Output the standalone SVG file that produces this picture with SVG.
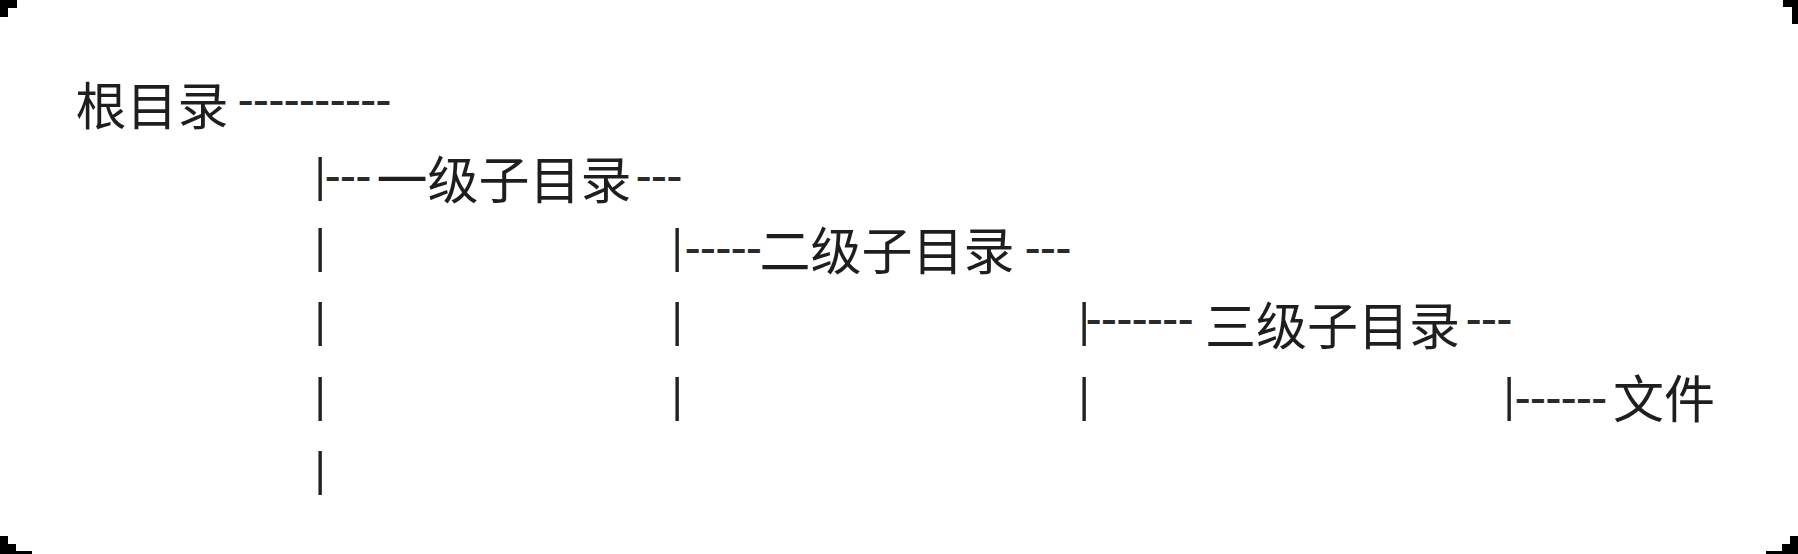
<svg xmlns="http://www.w3.org/2000/svg" width="1798" height="554" viewBox="0 0 1798 554">
<style>
  .cjk{font-family:"Noto Sans CJK SC","Noto Sans CJK JP",sans-serif;font-size:51px;fill:#1e1e1e}
  .dash{font-family:"Liberation Serif","Times New Roman",serif;font-size:46px;font-weight:bold;fill:#2a2a2a}
  .bar{font-family:"Liberation Serif","Times New Roman",serif;font-size:49px;font-weight:bold;fill:#222}
  .corner{fill:#000}
</style>
<rect x="0" y="0" width="1798" height="554" fill="#fff"/>
<g id="corners">
  <path class="corner" d="M0 0H17V8H8V17H0Z"/>
  <path class="corner" d="M1783 0H1798V24H1792V7H1783Z"/>
  <path class="corner" d="M0 536H8V544H16V551H32V554H0Z"/>
  <path class="corner" d="M1798 536H1790V544H1782V551H1766V554H1798Z"/>
</g>
<g id="root">
  <text class="cjk" x="75.5" y="124.5">根目录</text>
  <text class="dash" x="238" y="114">----------</text>
</g>
<g id="level1">
  <text class="bar" x="314.7" y="191.4">|</text>
  <text class="dash" x="325" y="190">---</text>
  <text class="cjk" x="376.5" y="199">一级子目录</text>
  <text class="dash" x="636" y="190">---</text>
</g>
<g id="level2">
  <text class="bar" x="671.7" y="262">|</text>
  <text class="dash" x="685" y="262">-----</text>
  <text class="cjk" x="759.5" y="269.5">二级子目录</text>
  <text class="dash" x="1025" y="262">---</text>
</g>
<g id="level3">
  <text class="bar" x="1078.7" y="336.4">|</text>
  <text class="dash" x="1086" y="333">-------</text>
  <text class="cjk" x="1205" y="344.5">三级子目录</text>
  <text class="dash" x="1466" y="333">---</text>
</g>
<g id="file">
  <text class="bar" x="1503.7" y="411">|</text>
  <text class="dash" x="1515" y="412">------</text>
  <text class="cjk" x="1613" y="417.5">文件</text>
</g>
<g id="connectors">
  <text class="bar" x="314.7" y="262">|</text>
  <text class="bar" x="314.7" y="336.4">|</text>
  <text class="bar" x="671.7" y="336.4">|</text>
  <text class="bar" x="314.7" y="411">|</text>
  <text class="bar" x="671.7" y="411">|</text>
  <text class="bar" x="1078.7" y="411">|</text>
  <text class="bar" x="314.7" y="485">|</text>
</g>
</svg>
